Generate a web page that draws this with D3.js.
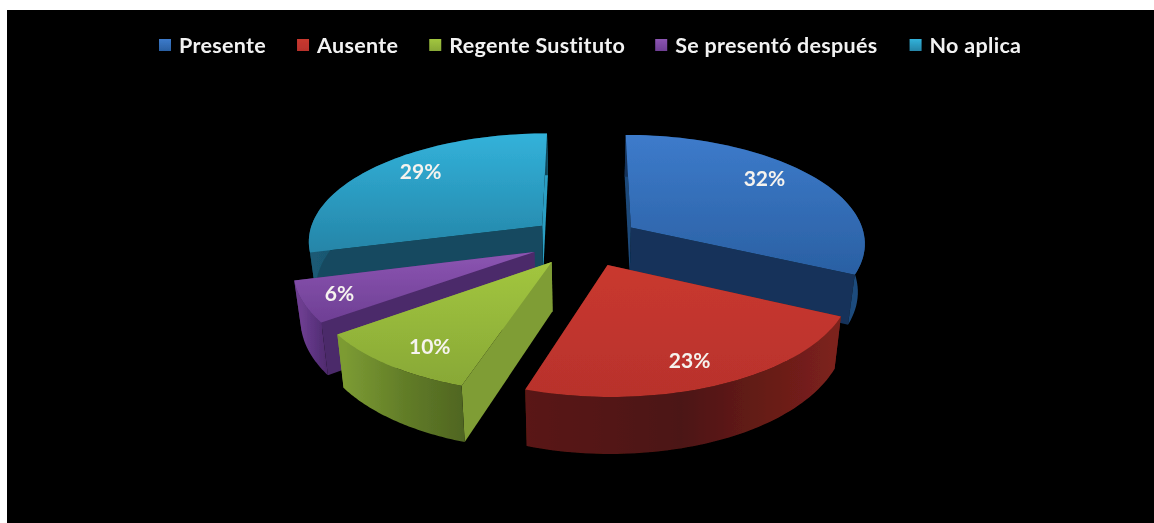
<!DOCTYPE html>
<html><head><meta charset="utf-8">
<script src="https://cdn.jsdelivr.net/npm/d3@7/dist/d3.min.js"></script>
<style>html,body{margin:0;padding:0;background:#fff}svg{display:block}</style>
</head><body><svg id="c" width="1154" height="523"></svg>
<script>
const categories = ["Presente","Ausente","Regente Sustituto","Se presentó después","No aplica"];
const values = [32,23,10,6,29];
const topLight  = ["#3d7bcb","#c9382f","#a2c63f","#8c55b2","#32b2da"];
const topDark   = ["#2a60a3","#b8322c","#88a836","#6e3f94","#2585a8"];
const wallLight = ["#1f4c7e","#7c211c","#7c9b33","#6d3e90","#1a5a74"];
const wallMid   = ["#143358","#4c1512","#627d28","#5c3380","#124a60"];
const wallDark  = ["#12335a","#5a1814","#4f6521","#4e2a6c","#114558"];
const cutFace   = ["#1f4a7a","#6e1d19","#7f9d35","#4c2a6b","#124a60"];
const cutFaceEnd= ["#12335a","#55170f","#7f9d35","#4c2a6b","#2a9fc4"];
const labelReach= [0.80,0.81,0.81,0.85,0.80];
const labelTurn = [-6,2,-2.4,0,6];

const W=1154,H=523;
const svg=d3.select("#c");
const defs=svg.append("defs");
svg.append("rect").attr("width",W).attr("height",H).attr("fill","#fff");
svg.append("rect").attr("x",7).attr("y",10).attr("width",W-7).attr("height",H-10).attr("fill","#000");
defs.append("filter").attr("id","soft").append("feGaussianBlur").attr("stdDeviation",0.55);
defs.append("filter").attr("id","softText").append("feGaussianBlur").attr("stdDeviation",0.35);

const cx=585,cy=241,persp=0.13,explode=0.235,depth=48,shrink=0.975;
const scaleX=d3.scaleLinear().domain([0,1]).range([0,235]);
const scaleY=d3.scaleLinear().domain([0,1]).range([0,108]);
const slices=d3.pie().sort(null).value(d=>d)(values);

function project(u,v,low){
  const d=1-persp*v;
  const x=scaleX(u)/d, y=scaleY(v)/d;
  return low ? [cx+x*shrink, cy+y+depth/d] : [cx+x, cy+y];
}
const line=d3.line();
function world(s,r,a){
  const mid=(s.startAngle+s.endAngle)/2;
  return [explode*Math.sin(mid)+r*Math.sin(a), -explode*Math.cos(mid)-r*Math.cos(a)];
}
function grad(id,colors,x1,y1,x2,y2){
  const g=defs.append("linearGradient").attr("id",id).attr("gradientUnits","userSpaceOnUse")
    .attr("x1",x1).attr("y1",y1).attr("x2",x2).attr("y2",y2);
  colors.forEach((c,k)=>g.append("stop").attr("offset",k/(colors.length-1)).attr("stop-color",c));
  return `url(#${id})`;
}
const order=[4,0,3,2,1];
const root=svg.append("g").attr("filter","url(#soft)");
order.forEach(i=>{
  const s=slices[i], g=root.append("g");
  const angs=d3.range(0,61).map(k=>s.startAngle+(s.endAngle-s.startAngle)*k/60);
  const top=angs.map(a=>project(...world(s,1,a),false));
  const low=angs.map(a=>project(...world(s,1,a),true));
  const apT=project(...world(s,0,0),false), apL=project(...world(s,0,0),true);
  g.append("path").attr("d",line([apT,top[60],low[60],apL])+"Z").attr("fill",cutFaceEnd[i]);
  g.append("path").attr("d",line([apT,top[0],low[0],apL])+"Z").attr("fill",cutFace[i]);
  const xs=low.map(p=>p[0]);
  const wl=i===0||i===1? [d3.max(xs),d3.min(xs)]:[d3.min(xs),d3.max(xs)];
  g.append("path").attr("d",line(top.concat(low.slice().reverse()))+"Z")
    .attr("fill",grad("w"+i,[wallLight[i],wallMid[i],wallDark[i]],wl[0],0,wl[1],0));
  const ys=top.concat([apT]).map(p=>p[1]);
  g.append("path").attr("d",line([apT].concat(top))+"Z")
    .attr("fill",grad("t"+i,[topLight[i],topDark[i]],0,d3.min(ys),0,d3.max(ys)));
});
const total=d3.sum(values);
const txt=svg.append("g").attr("filter","url(#softText)");
slices.forEach((s,i)=>{
  const mid=(s.startAngle+s.endAngle)/2+labelTurn[i]*Math.PI/180;
  const p=project(...world(s,labelReach[i],mid),false);
  txt.append("text").attr("x",p[0]).attr("y",p[1]).attr("dy","0.35em").attr("text-anchor","middle")
    .attr("font-family","Lato").attr("font-weight",700).attr("font-size",21).attr("fill","#f6f3ee")
    .text(Math.round(s.value/total*100)+"%");
});
let lx=159;
const gap=[31,31,30,32,0];
categories.forEach((c,i)=>{
  txt.append("rect").attr("x",lx).attr("y",39).attr("width",12).attr("height",12)
    .attr("fill",grad("l"+i,[topLight[i],topDark[i]],0,39,0,51));
  const t=txt.append("text").attr("x",lx+20).attr("y",45).attr("dy","0.35em")
    .attr("font-family","Lato").attr("font-weight",700).attr("font-size",21.5).attr("fill","#f2f2f2").attr("letter-spacing",0.3).text(c);
  lx+=20+t.node().getComputedTextLength()+gap[i];
});
</script></body></html>
